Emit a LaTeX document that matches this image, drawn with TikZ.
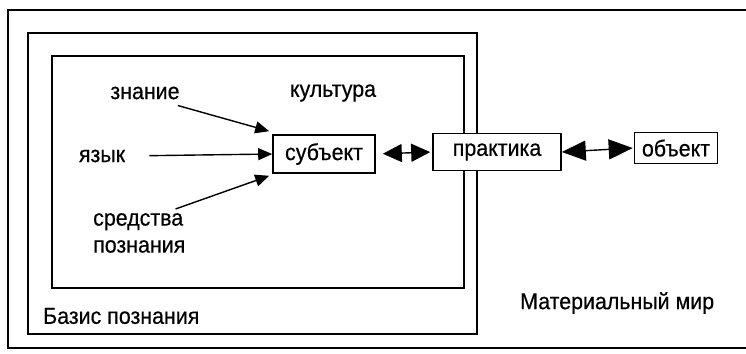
\documentclass[tikz,border=0pt]{standalone}
\usepackage{fontspec}
\setmainfont{Liberation Sans}[FakeStretch=0.93,FakeBold=0.4]
\usetikzlibrary{arrows.meta}
\begin{document}
\begin{tikzpicture}[x=1pt,y=-1pt,
  frame/.style={line width=1.8pt},
  lbl/.style={inner sep=0pt,font=\fontsize{23}{27}\selectfont},
  boxn/.style={draw,line width=1.6pt,fill=white,inner sep=0pt,font=\fontsize{23}{27}\selectfont},
  thin/.style={line width=1.4pt,-{Triangle[length=14pt,width=12pt]}},
  dbl/.style={line width=1.4pt,{Triangle[length=19pt,width=18pt]}-{Triangle[length=19pt,width=18pt]}},
  dblb/.style={line width=1.4pt,{Triangle[length=24pt,width=20pt]}-{Triangle[length=24pt,width=20pt]}}]
\useasboundingbox (0,0) rectangle (746,353);
\clip (0,0) rectangle (746,353);
\fill[white] (0,0) rectangle (746,353);
% frames
\draw[frame] (760,10) -- (8,10) -- (8,348) -- (760,348);
\draw[frame] (28,33) rectangle (477,334);
\draw[frame] (52,56) rectangle (464,288);
% texts
\node[lbl] (znanie) at (145,93) {знание};
\node[lbl] (kultura) at (333,93) {культура};
\node[lbl] (yazyk) at (102,156) {язык};
\node[lbl,anchor=north west,align=left] (sredstva) at (93,213) {средства\\познания};
\node[lbl,anchor=west] (bazis) at (43,316) {Базис познания};
\node[lbl,anchor=west] (mir) at (520,303) {Материальный мир};
% boxes
\node[boxn,minimum width=102pt,minimum height=38pt] (subj) at (324,154) {субъект};
\node[boxn,minimum width=128pt,minimum height=37pt] (prakt) at (497,152) {практика};
\node[boxn,minimum width=83pt,minimum height=31pt] (obj) at (676,148) {объект};
% connectors
\draw[thin] ([shift={(-2,6)}]znanie.south east) -- ([shift={(-3,-3)}]subj.north west);
\draw[thin,shorten <=24pt] (yazyk.east) -- (subj.west);
\draw[thin] ([shift={(-10,-4)}]sredstva.north east) -- ([shift={(-3,2)}]subj.south west);
\draw[dbl,shorten <=7pt,shorten >=2pt] (subj.east) -- (prakt.west);
\draw[dblb,shorten >=1pt] (prakt.east) -- (obj.west);
\end{tikzpicture}
\end{document}
